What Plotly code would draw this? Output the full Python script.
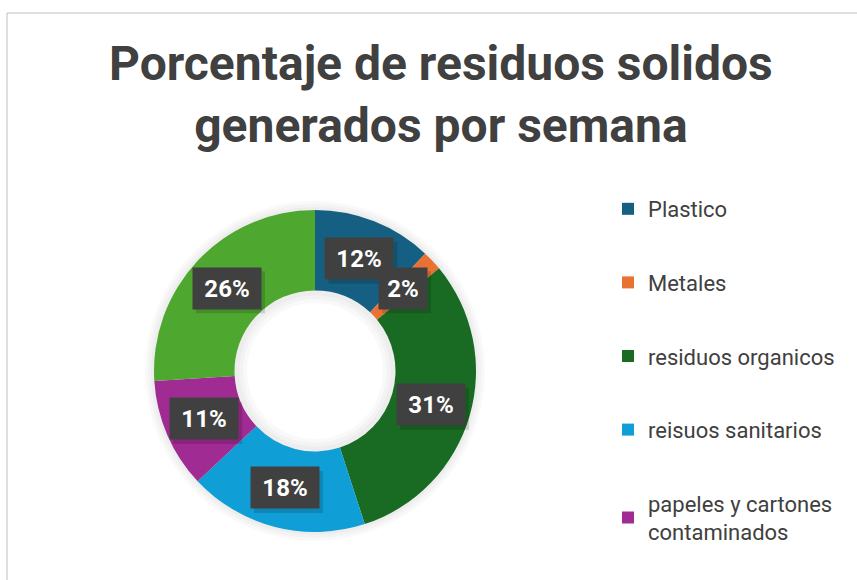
import math
import plotly.graph_objects as go

title = 'Porcentaje de residuos solidos<br>generados por semana'

# slices, clockwise from 12 o'clock
labels = ['Plastico', 'Metales', 'residuos organicos', 'reisuos sanitarios',
          'papeles y cartones contaminados', 'otros residuos']
values = [12, 2, 31, 18, 11, 26]
colors = ['#156082', '#E97132', '#196B24', '#0F9ED5', '#A02B93', '#4EA72E']
legend_names = ['Plastico', 'Metales', 'residuos organicos', 'reisuos sanitarios',
                'papeles y cartones<br>contaminados']

W, H = 857, 580
cx, cy, R = 315, 371, 161   # donut centre / radius in px
hole = 0.5

fig = go.Figure()

# soft glow behind the ring
for grow, h in [(9, 0.40), (6, 0.43), (3, 0.46)]:
    fig.add_trace(go.Pie(values=[1], hole=h, sort=False, showlegend=False,
                         marker=dict(colors=['rgba(0,0,0,0.025)']),
                         textinfo='none', hoverinfo='skip',
                         domain=dict(x=[(cx - R - grow) / W, (cx + R + grow) / W],
                                     y=[1 - (cy + R + grow) / H, 1 - (cy - R - grow) / H])))

fig.add_trace(go.Pie(labels=labels, values=values, hole=hole, sort=False,
                     direction='clockwise', rotation=0, showlegend=False,
                     marker=dict(colors=colors, line=dict(width=0)),
                     textinfo='none',
                     domain=dict(x=[(cx - R) / W, (cx + R) / W],
                                 y=[1 - (cy + R) / H, 1 - (cy - R) / H])))

# legend entries (only the ones visible in the frame)
for name, col in zip(legend_names, colors):
    fig.add_trace(go.Scatter(x=[None], y=[None], mode='markers', name=name,
                             legendgroup=name,
                             marker=dict(symbol='square', size=12, color=col)))

# data labels on boxes, placed at the middle of each ring segment
total = sum(values)
rm = R * (1 + hole) / 2
cum = 0
for v in values:
    ang = 2 * math.pi * (cum + v / 2) / total
    cum += v
    px_ = cx + rm * math.sin(ang)
    py_ = cy - rm * math.cos(ang)
    pct = round(100 * v / total)
    half = 34 if pct >= 10 else 24
    # drop shadow of the label box
    fig.add_shape(type='rect', xref='paper', yref='paper',
                  xsizemode='pixel', ysizemode='pixel',
                  xanchor=px_ / W, yanchor=1 - py_ / H,
                  x0=-half + 3, x1=half + 4, y0=-21 - 4, y1=20 - 3,
                  fillcolor='rgba(0,0,0,0.14)', line=dict(width=0), layer='above')
    fig.add_annotation(x=px_ / W, y=1 - py_ / H, xref='paper', yref='paper',
                       xanchor='center', yanchor='middle',
                       text='<b>%d%%</b>' % pct, showarrow=False, bgcolor='#404040',
                       width=2 * half - 8, height=33, borderpad=4,
                       font=dict(size=24, color='white', family='Roboto'))

# title
fig.add_annotation(x=441 / W, y=1 - 94 / H, xref='paper', yref='paper',
                   xanchor='center', yanchor='middle', showarrow=False,
                   text='<b>' + title + '</b>',
                   font=dict(size=48, color='#404040', family='Roboto'))

# chart frame
fig.add_shape(type='rect', xref='paper', yref='paper',
              x0=7 / W, x1=1.02, y0=-0.02, y1=1 - 13 / H,
              line=dict(color='#bfbfbf', width=1))

fig.update_layout(
    width=W, height=H,
    margin=dict(l=0, r=0, t=0, b=0),
    paper_bgcolor='white', plot_bgcolor='white',
    xaxis=dict(visible=False), yaxis=dict(visible=False),
    legend=dict(x=608 / W, xanchor='left', y=1 - 188 / H, yanchor='top',
                tracegroupgap=42, font=dict(size=22, color='#404040', family='Roboto'),
                bgcolor='rgba(0,0,0,0)', itemclick=False),
    font=dict(family='Roboto'),
)

fig.write_html("out.html", config={'displayModeBar': False},
               post_script="document.body.style.margin='0';document.body.style.overflow='hidden';")
